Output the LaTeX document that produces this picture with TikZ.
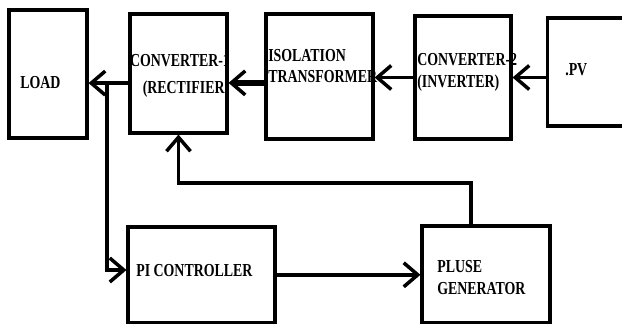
\documentclass[tikz,border=0pt]{standalone}
\usepackage{fontspec}
\setmainfont{Liberation Serif}[FakeStretch=0.76]
\usetikzlibrary{positioning}
\usetikzlibrary{arrows.meta}

\begin{document}
\begin{tikzpicture}[
  blk/.style={draw, line width=2.2pt, inner sep=0pt},
  lbl/.style={font=\bfseries\fontsize{13}{15.5}\selectfont, inner sep=0pt, align=left},
  arr/.style={-{Straight Barb[length=0.35cm, width=0.6cm, line width=2.5pt]}, line width=2.5pt},
]
\useasboundingbox (0,0) rectangle (15.55,8.1);

% top row
\node[blk, minimum width=1.95cm, minimum height=3.2cm] (load) at (1.2,6.25) {};
\node[blk, minimum width=2.425cm, minimum height=2.975cm] (conv1) at (4.4625,6.2625) {};
\node[blk, minimum width=2.675cm, minimum height=3.125cm] (iso) at (7.9875,6.1875) {};
\node[blk, minimum width=2.4cm, minimum height=3.075cm] (conv2) at (11.575,6.1625) {};
\node[blk, minimum width=2.325cm, minimum height=2.7cm] (pv) at (14.84,6.3) {};

% bottom row
\node[blk, minimum width=3.675cm, minimum height=2.39cm] (pi) at (5.0375,1.23) {};
\node[blk, minimum width=3.2cm, minimum height=2.41cm] (pulse) at (12.15,1.244) {};

% texts
\node[lbl, anchor=west] (loadtxt) at (0.5,6.025) {LOAD};
\node[lbl, align=center] (conv1txt) at (4.5,6.2) {CONVERTER-1\\[4pt]\hspace*{0.3cm}(RECTIFIER)};
\node[lbl, anchor=west] (isotxt) at (6.7,6.45) {ISOLATION\\TRANSFORMER};
\node[lbl, anchor=west] (conv2txt) at (10.425,6.2875) {CONVERTER-2\\(INVERTER)};
\node[lbl, anchor=west] (pvtxt) at (14.125,6.35) {.PV};
\node[lbl, anchor=west] (pitxt) at (3.4,1.325) {PI CONTROLLER};
\node[lbl, anchor=west] (pulsetxt) at (10.925,1.1625) {PLUSE\\GENERATOR};

% power path
\draw[arr] (pv.west |- conv2.east) -- (conv2.east);
\draw[arr] (conv2.west) -- (conv2.west -| iso.east);
\draw[arr, line width=4.5pt] ([yshift=-0.16cm]iso.west) -- ([yshift=-0.16cm]iso.west -| conv1.east);
\draw[arr] ([yshift=-0.24cm]conv1.west) -- ([yshift=-0.24cm]conv1.west -| load.east);

% control loop
\coordinate (tap) at (2.675,6.025);
\coordinate (fbtop) at (0,3.525);
\draw[arr] (tap) |- ([yshift=0.12cm]pi.west);
\draw[arr] (pi.east) -- (pi.east -| pulse.west);
\draw[arr] ([xshift=-0.375cm]pulse.north) |- (conv1.south |- fbtop) -- (conv1.south);
\end{tikzpicture}
\end{document}
